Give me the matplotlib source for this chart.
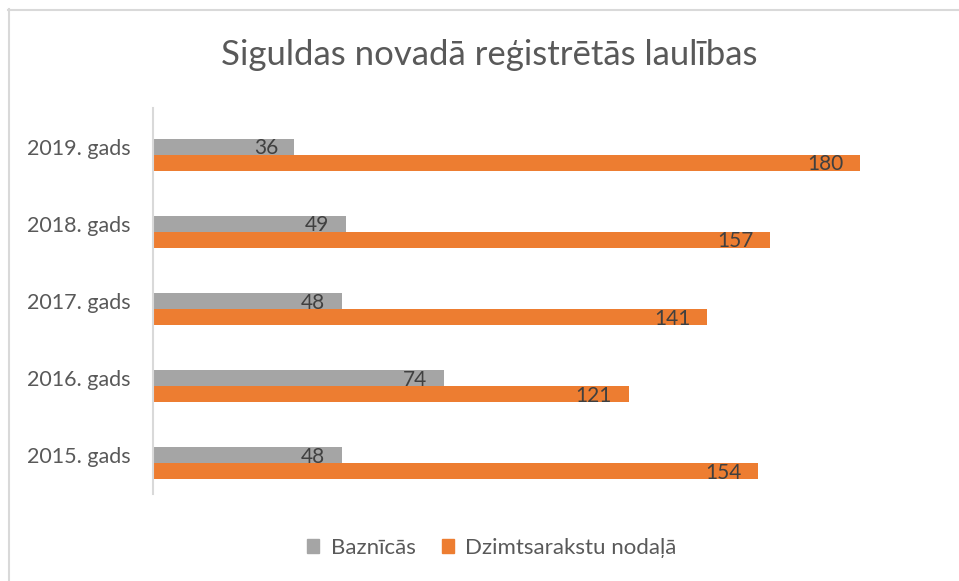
import matplotlib.pyplot as plt
from matplotlib.lines import Line2D
from matplotlib.patches import Patch

plt.rcParams['font.family'] = ['Lato', 'DejaVu Sans']

# data (bottom to top as drawn)
years = ['2015. gads', '2016. gads', '2017. gads', '2018. gads', '2019. gads']
baznicas = [48, 74, 48, 49, 36]
dzimtsaraksti = [154, 121, 141, 157, 180]

gray = '#a5a5a5'
orange = '#ed7d31'
text_col = '#595959'
label_col = '#404040'

fig = plt.figure(figsize=(9.59, 5.81), dpi=100)
ax = fig.add_axes([153 / 959, 87 / 581, 786 / 959, 386 / 581])

pos = list(range(len(years)))
h = 0.207
ax.barh(pos, baznicas, height=h, color=gray, align='center')
ax.barh([p - h for p in pos], dzimtsaraksti, height=h, color=orange, align='center')

# value labels at inside end of each bar
for p, v in zip(pos, baznicas):
    ax.text(v - 4.2, p - 0.02, str(v), ha='right', va='center', fontsize=15, color=label_col)
for p, v in zip(pos, dzimtsaraksti):
    ax.text(v - 4.2, p - h - 0.02, str(v), ha='right', va='center', fontsize=15, color=label_col)

ax.set_xlim(0, 200)
ax.set_ylim(-0.5, 4.5)
ax.set_yticks(pos)
ax.set_yticklabels(years, fontsize=15.5, color=text_col)
ax.tick_params(axis='y', length=0, pad=16)
ax.set_xticks([])
for s in ['top', 'right', 'bottom']:
    ax.spines[s].set_visible(False)
ax.spines['left'].set_color('#d9d9d9')
ax.spines['left'].set_linewidth(1.5)

fig.text(489 / 959, 1 - 55 / 581, 'Siguldas novadā reģistrētās laulības',
         ha='center', va='center', fontsize=25, color=text_col)

handles = [Patch(color=gray, label='Baznīcās'),
           Patch(color=orange, label='Dzimtsarakstu nodaļā')]
fig.legend(handles=handles, loc='center', bbox_to_anchor=(492 / 959, 1 - 548 / 581),
           ncol=2, frameon=False, fontsize=16, labelcolor=text_col,
           handlelength=0.55, handleheight=0.55, handletextpad=0.5, columnspacing=1.2)

# chart border (top and left edges visible)
fig.add_artist(Line2D([8 / 959, 1], [1 - 9.5 / 581, 1 - 9.5 / 581], color='#d9d9d9', lw=1.5))
fig.add_artist(Line2D([8.5 / 959, 8.5 / 959], [0, 1 - 9 / 581], color='#d9d9d9', lw=1.5))

fig.savefig('out.png', dpi=100)
